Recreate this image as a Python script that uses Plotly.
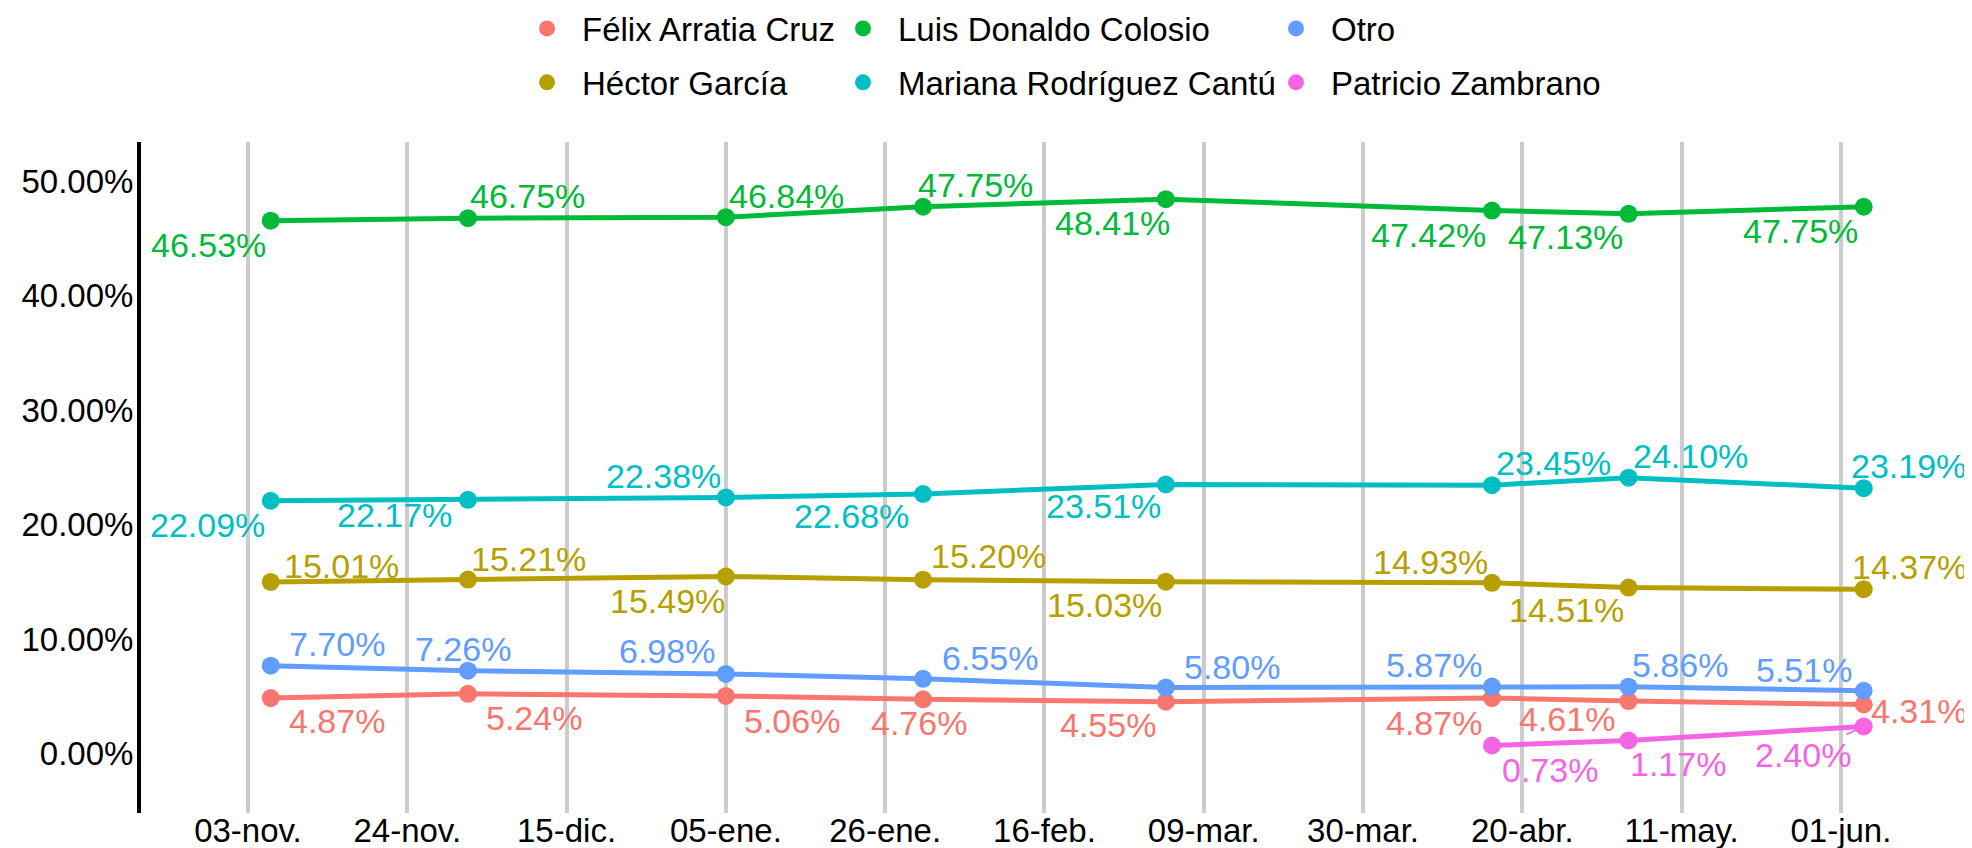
import plotly.graph_objects as go

# ---- data ----
dates = ["2024-11-06", "2024-12-02", "2025-01-05", "2025-01-31",
         "2025-03-04", "2025-04-16", "2025-05-04", "2025-06-04"]

felix = [4.87, 5.24, 5.06, 4.76, 4.55, 4.87, 4.61, 4.31]
hector = [15.01, 15.21, 15.49, 15.20, 15.03, 14.93, 14.51, 14.37]
luis = [46.53, 46.75, 46.84, 47.75, 48.41, 47.42, 47.13, 47.75]
mariana = [22.09, 22.17, 22.38, 22.68, 23.51, 23.45, 24.10, 23.19]
otro = [7.70, 7.26, 6.98, 6.55, 5.80, 5.87, 5.86, 5.51]
patricio = [None, None, None, None, None, 0.73, 1.17, 2.40]

tick_dates = ["2024-11-03", "2024-11-24", "2024-12-15", "2025-01-05", "2025-01-26",
              "2025-02-16", "2025-03-09", "2025-03-30", "2025-04-20", "2025-05-11",
              "2025-06-01"]
tick_labels = ["03-nov.", "24-nov.", "15-dic.", "05-ene.", "26-ene.", "16-feb.",
               "09-mar.", "30-mar.", "20-abr.", "11-may.", "01-jun."]

y_ticks = [0.0, 0.1, 0.2, 0.3, 0.4, 0.5]

# ---- styles ----
FONT = "Liberation Sans, Arial, sans-serif"
W, H = 1964, 840  # page has an 8px body margin
M_T, M_B = 134, 35
PLOT_H = H - M_T - M_B
series = [
    # name, values, color, legend, label offsets (px, screen: dx right, dy down)
    ("Félix Arratia Cruz", felix, "#F8766D", "legend",
     [(66, 23), (66, 24.6), (66.4, 25), (-4.5, 24), (-58, 23), (-57.6, 25), (-62, 18), (55, 7)]),
    ("Héctor García", hector, "#B79F00", "legend",
     [(71, -15.5), (60.6, -21), (-58.4, 24.5), (65.5, -23.4), (-61.7, 23), (-62, -20.5), (-62, 22), (45.5, -22)]),
    ("Luis Donaldo Colosio", luis, "#00BA38", "legend2",
     [(-62.5, 24), (60, -22), (60.6, -21.6), (52.5, -22), (-53, 24), (-63.5, 24), (-63, 23), (-63.5, 24)]),
    ("Mariana Rodríguez Cantú", mariana, "#00BFC4", "legend2",
     [(-63, 24), (-73, 15), (-62, -21), (-71.5, 21.5), (-62.5, 22), (61, -22), (61.5, -21.5), (45, -22)]),
    ("Otro", otro, "#619CFF", "legend3",
     [(66.5, -21.7), (-4.8, -22), (-58.4, -22.5), (66.5, -20.4), (66.5, -20), (-57.6, -21.7), (51, -21.8), (-59.5, -21)]),
    ("Patricio Zambrano", patricio, "#F564E3", "legend3",
     [None, None, None, None, None, (58, 24.5), (49.5, 24), (-60.5, 28.6)]),
]

fig = go.Figure()
annotations = []
for i, (name, vals, color, leg, offs) in enumerate(series):
    yv = [None if v is None else v / 100 for v in vals]
    fig.add_trace(go.Scatter(
        x=dates, y=yv, mode="lines+markers", name=name, showlegend=False,
        line=dict(color=color, width=5), marker=dict(color=color, size=18),
        hoverinfo="skip", connectgaps=False,
    ))
    # legend entry (marker only)
    fig.add_trace(go.Scatter(
        x=[None], y=[None], mode="markers", name=name, legend=leg,
        legendgroup=f"g{i}", marker=dict(color=color, size=18),
    ))
    for d, v, off in zip(dates, vals, offs):
        if v is None:
            continue
        dx, dy = off
        txt = f"{v:.2f}%"
        if name == "Patricio Zambrano" and v == 2.40:
            annotations.append(dict(
                x=d, y=v / 100, xref="x", yref="y", text=txt, showarrow=True,
                ax=dx, ay=dy, axref="pixel", ayref="pixel", arrowhead=0,
                arrowwidth=1.5, arrowcolor=color, standoff=8,
                xanchor="center", yanchor="middle",
                font=dict(family=FONT, size=34, color=color)))
        else:
            annotations.append(dict(
                x=d, y=v / 100, xref="x", yref="y", text=txt, showarrow=False,
                xshift=dx, yshift=-dy, xanchor="center", yanchor="middle",
                font=dict(family=FONT, size=34, color=color)))

legend_y = 1 + (M_T + 7.5) / PLOT_H
legend_common = dict(orientation="v", xref="container", yref="paper",
                     xanchor="left", yanchor="top", traceorder="grouped",
                     tracegroupgap=8, itemwidth=60, bgcolor="rgba(0,0,0,0)",
                     y=legend_y,
                     font=dict(family=FONT, size=33, color="black"))

fig.update_layout(
    width=W, height=H,
    paper_bgcolor="white", plot_bgcolor="white",
    margin=dict(l=133, r=4, t=M_T, b=M_B, autoexpand=False),
    font=dict(family=FONT, size=33, color="black"),
    annotations=annotations,
    legend=dict(x=504 / W, **legend_common),
    legend2=dict(x=820 / W, **legend_common),
    legend3=dict(x=1253 / W, **legend_common),
    xaxis=dict(
        type="date", range=["2024-10-19 21:36", "2025-06-17 18:00"],
        tickmode="array", tickvals=tick_dates, ticktext=tick_labels,
        showgrid=True, gridcolor="#cccccc", gridwidth=3.5,
        showline=False, zeroline=False, ticks="", automargin=False,
        ticklabelstandoff=-5,
        tickfont=dict(family=FONT, size=33, color="black"),
    ),
    yaxis=dict(
        range=[-0.0516, 0.534], tickmode="array", tickvals=y_ticks,
        tickformat=".2%", showgrid=False, zeroline=False,
        showline=True, linecolor="black", linewidth=4, ticks="",
        automargin=False, ticklabelstandoff=-3,
        tickfont=dict(family=FONT, size=33, color="black"),
    ),
)

fig.write_html("out.html")
